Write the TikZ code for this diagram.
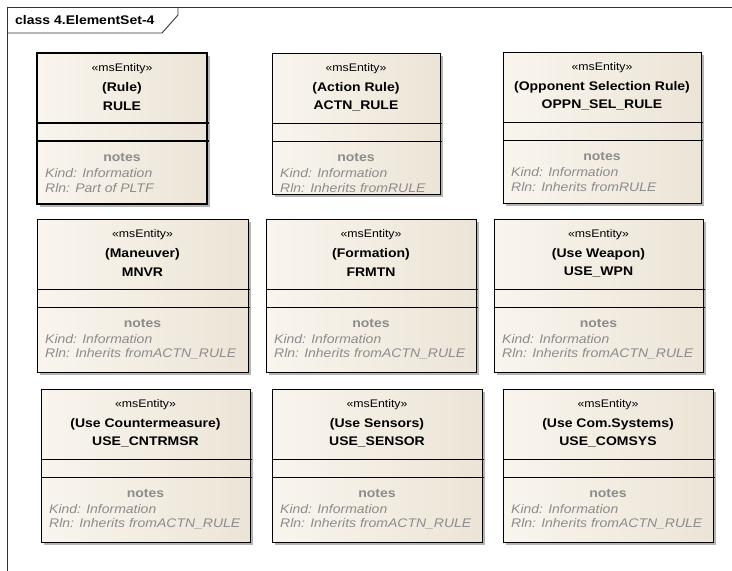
\documentclass[tikz,border=0pt]{standalone}
\usepackage{fontspec}
\setmainfont{Liberation Sans}[FakeStretch=1.12]
\usetikzlibrary{fit}
\definecolor{boxl}{RGB}{249,245,238}
\definecolor{boxr}{RGB}{236,228,214}
\definecolor{notec}{RGB}{140,140,140}
\definecolor{framec}{RGB}{50,50,50}
\definecolor{shadowc}{RGB}{180,180,180}
\tikzset{
  entbox/.style={draw=black, line width=1pt, inner sep=0pt, left color=boxl, right color=boxr},
  selbox/.style={line width=2pt},
  plainbox/.style={},
  shad/.style={fill=shadowc, draw=none},
  stereo/.style={font=\fontsize{11}{13}\selectfont, inner sep=0pt},
  ename/.style={font=\fontsize{12.5}{14}\selectfont\bfseries, inner sep=0pt},
  notehead/.style={font=\fontsize{12.5}{14}\selectfont\bfseries, text=notec, inner sep=0pt},
  noteline/.style={font=\fontsize{12.5}{14}\selectfont\itshape, text=notec, inner sep=0pt, anchor=west},
  divider/.style={draw=black, line width=1pt},
  frameline/.style={draw=framec, line width=0.9pt},
  titletext/.style={font=\fontsize{12.5}{14}\selectfont\bfseries, inner sep=0pt, anchor=west}
}
% #1 id, #2 x1, #3 x2, #4 top, #5 bottom, #6 name, #7 code, #8 relation, #9 extra style
\newcommand\entity[9]{%
  \fill[shad] ({#2+3},{#4+3}) rectangle ({#3+3},{#5+3});
  \node[entbox, #9, fit={(#2,#4) (#3,#5)}] (#1) {};
  \draw[divider, #9] (#2,{#4+70}) -- ({#3+2},{#4+70});
  \draw[divider, #9] (#2,{#4+88}) -- ({#3+2},{#4+88});
  \node[stereo] (#1-s) at ({(#2+#3)/2},{#4+16}) {«msEntity»};
  \node[ename] (#1-n) at ({(#2+#3)/2},{#4+35}) {#6};
  \node[ename] (#1-c) at ({(#2+#3)/2},{#4+53}) {#7};
  \node[notehead] (#1-h) at ({(#2+#3)/2},{#4+104}) {notes};
  \node[noteline] (#1-k) at ({#2+8},{#4+120}) {Kind: Information};
  \node[noteline] (#1-r) at ({#2+8},{#4+135}) {Rln: #8};
}
\begin{document}
\begin{tikzpicture}[x=1pt, y=-1pt]
\useasboundingbox[fill=white] (0,0) rectangle (732,571);
% frame
\draw[frameline] (7,571) -- (7,7) -- (732,7);
\draw[frameline] (7,33) -- (162,33) -- (178,15) -- (178,7);
\node[titletext] (title) at (15,20) {class 4.ElementSet-4};
% row 1
\entity{rule}{37}{207}{53}{204}{(Rule)}{RULE}{Part of PLTF}{selbox}
\entity{actn}{272}{440}{53}{194}{(Action Rule)}{ACTN\_RULE}{Inherits fromRULE}{plainbox}
\entity{oppn}{503}{701}{52}{203}{(Opponent Selection Rule)}{OPPN\_SEL\_RULE}{Inherits fromRULE}{plainbox}
% row 2
\entity{mnvr}{37}{248}{219}{372}{(Maneuver)}{MNVR}{Inherits fromACTN\_RULE}{plainbox}
\entity{frmtn}{266}{476}{219}{372}{(Formation)}{FRMTN}{Inherits fromACTN\_RULE}{plainbox}
\entity{wpn}{494}{703}{219}{372}{(Use Weapon)}{USE\_WPN}{Inherits fromACTN\_RULE}{plainbox}
% row 3
\entity{cntr}{41}{250}{389}{542}{(Use Countermeasure)}{USE\_CNTRMSR}{Inherits fromACTN\_RULE}{plainbox}
\entity{sensor}{272}{482}{389}{542}{(Use Sensors)}{USE\_SENSOR}{Inherits fromACTN\_RULE}{plainbox}
\entity{comsys}{503}{713}{389}{542}{(Use Com.Systems)}{USE\_COMSYS}{Inherits fromACTN\_RULE}{plainbox}
\end{tikzpicture}
\end{document}
